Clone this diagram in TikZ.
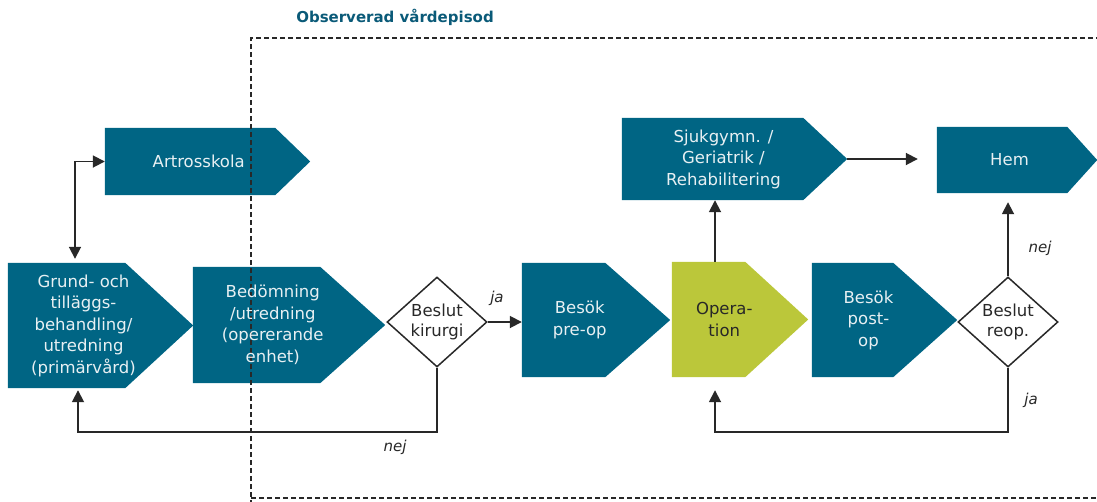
\documentclass[tikz,border=0pt]{standalone}
\usepackage{fontspec}
\setmainfont{DejaVu Sans}
\usetikzlibrary{arrows.meta,shapes.geometric,calc,backgrounds}
\definecolor{vteal}{RGB}{0,101,132}
\definecolor{vgreen}{RGB}{187,199,58}
\definecolor{boxtext}{RGB}{232,240,243}
\definecolor{lgray}{RGB}{40,40,40}
\definecolor{titlecol}{RGB}{10,90,120}
\newcommand\pent[3]{%
  \fill[#3] (#1.north west) -- ($(#1.north east)+({-#2/2},0)$) -- ($(#1.east)+({#2/2},0)$)
    -- ($(#1.south east)+({-#2/2},0)$) -- (#1.south west) -- cycle;}
\tikzset{
  box/.style={rectangle, inner sep=0pt, align=center, text=boxtext,
    font=\fontsize{16.5}{21.5}\selectfont},
  dec/.style={diamond, draw=lgray, line width=1.5pt, fill=white, minimum width=100pt,
    minimum height=90pt, inner sep=0pt, align=center, text=lgray,
    font=\fontsize{16.5}{20}\selectfont},
  tip/.style={Triangle[length=12pt,width=12pt]},
  conn/.style={draw=lgray, line width=1.8pt, -{Triangle[length=12pt,width=12pt]}},
  lbl/.style={font=\itshape\fontsize{15}{17}\selectfont, text=lgray},
  frame/.style={draw=lgray, line width=1.3pt, dash pattern=on 5pt off 3pt},
}
\begin{document}
\begin{tikzpicture}[x=1pt,y=-1pt]
\useasboundingbox (0,0) rectangle (1097,501);
% frame of observed episode
\draw[frame] (251,505) -- (251,38) -- (1105,38);
\draw[frame] (251,498) -- (1105,498);
\node[font=\bfseries\fontsize{15}{17}\selectfont, text=titlecol] (title) at (395,17) {Observerad vårdepisod};
% process boxes
\node[box, minimum width=187.5pt, minimum height=67pt] (artro) at (198.75,161.5) {Artrosskola};
\node[box, minimum width=151pt, minimum height=125pt] (grund) at (83.5,325.5) {Grund- och\\tilläggs-\\behandling/\\utredning\\(primärvård)};
\node[box, minimum width=159.5pt, minimum height=116pt] (bedom) at (272.75,325) {Bedömning\\/utredning\\(opererande\\enhet)};
\node[box, minimum width=115.5pt, minimum height=114pt] (preop) at (579.75,320) {Besök\\pre-op};
\node[box, minimum width=104.5pt, minimum height=115pt, text=lgray] (oper) at (724.25,319.5) {Opera-\\tion};
\node[box, minimum width=113pt, minimum height=114pt] (postop) at (868.5,320) {Besök\\post-\\op};
\node[box, minimum width=203pt, minimum height=82pt] (sjuk) at (723.5,159) {Sjukgymn. /\\Geriatrik /\\Rehabilitering};
\node[box, minimum width=145pt, minimum height=66pt] (hem) at (1009.5,160) {Hem};
\begin{pgfonlayer}{background}
\pent{artro}{35}{vteal}
\pent{grund}{68}{vteal}
\pent{bedom}{65}{vteal}
\pent{preop}{65}{vteal}
\pent{oper}{63}{vgreen}
\pent{postop}{64}{vteal}
\pent{sjuk}{44}{vteal}
\pent{hem}{30}{vteal}
\end{pgfonlayer}
\coordinate (sjtip) at ($(sjuk.east)+(22,0)$);
% decisions
\node[dec] (kir) at (437,322) {Beslut\\kirurgi};
\node[dec] (reop) at (1008,322) {Beslut\\reop.};
% helper coordinates
\coordinate (gx) at (75,0);
\coordinate (gb) at (78,0);
\coordinate (ox) at (715,0);
\coordinate (low) at (0,432);
% connectors
\draw[conn, {Triangle[length=12pt,width=12pt]}-{Triangle[length=12pt,width=12pt]}, shorten <=4pt]
  (grund.north -| gx) |- (artro.west);
\draw[conn] (kir.east) -- (kir.east -| preop.west);
\draw[conn, shorten >=2pt] (kir.south) -- (kir.south |- low) -| (grund.south -| gb);
\draw[conn] (oper.north -| ox) -- (sjuk.south -| ox);
\draw[conn, shorten >=19pt] (sjtip) -- (sjtip -| hem.west);
\draw[conn, shorten >=9pt] (reop.north) -- (reop.north |- hem.south);
\draw[conn, shorten >=13pt] (reop.south) -- (reop.south |- low) -| (oper.south -| ox);
% labels
\node[lbl] (ja1) at (497,298) {ja};
\node[lbl] (nej1) at (395,447) {nej};
\node[lbl] (nej2) at (1040,248) {nej};
\node[lbl] (ja2) at (1031,400) {ja};
\end{tikzpicture}
\end{document}
